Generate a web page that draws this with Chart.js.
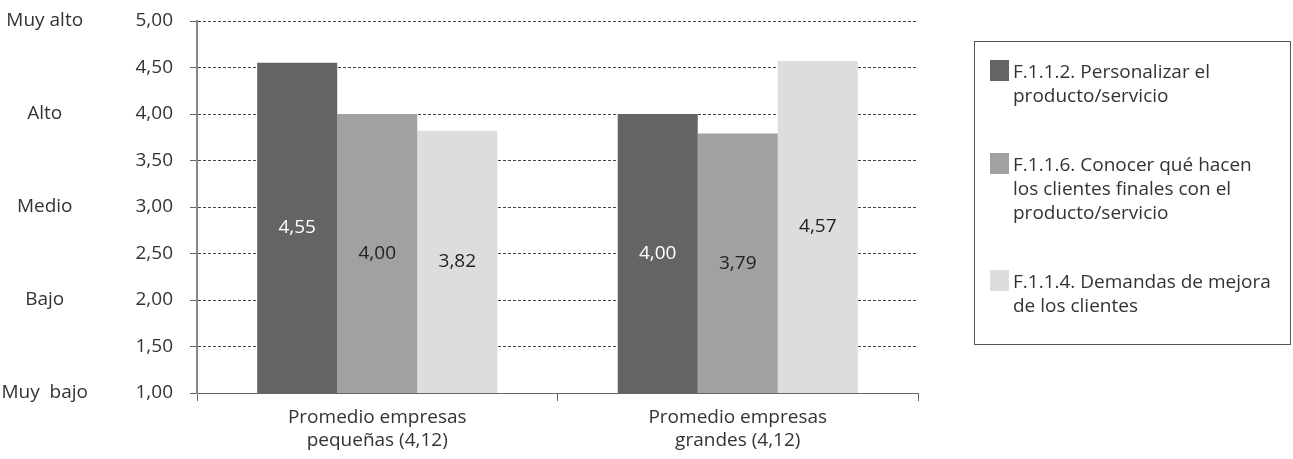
<!DOCTYPE html>
<html lang="es">
<head>
<meta charset="utf-8">
<title>Promedio por tamaño de empresa</title>
<script src="https://cdn.jsdelivr.net/npm/chart.js@4/dist/chart.umd.min.js"></script>
<style>
  html, body { margin: 0; padding: 0; background: #fff; }
  #wrap { width: 1293px; height: 459px; position: relative; }
</style>
</head>
<body>
<div id="wrap"><canvas id="grafico"></canvas></div>
<script>
// Categorías (eje X), en dos líneas cada una
const categorias = [
  ['Promedio empresas', 'pequeñas (4,12)'],
  ['Promedio empresas', 'grandes (4,12)']
];

// Series (una por ítem)
const serieNombres = [
  ['F.1.1.2. Personalizar el', 'producto/servicio'],
  ['F.1.1.6. Conocer qué hacen', 'los clientes finales con el', 'producto/servicio'],
  ['F.1.1.4. Demandas de mejora', 'de los clientes']
];
const personalizar = [4.55, 4.00];
const conocerClientes = [4.00, 3.79];
const demandasMejora = [3.82, 4.57];

// Escala cualitativa (1 a 5)
const niveles = ['Muy  bajo', 'Bajo', 'Medio', 'Alto', 'Muy alto'];

const colores = ['#636466', '#a0a1a3', '#dcdddf'];
const colorTexto = ['#ffffff', '#222222', '#222222'];
const fuente = '"Open Sans", "Noto Sans", sans-serif';
const tam = 19;

const coma = v => v.toFixed(2).replace('.', ',');

// Valores dentro de cada barra, centrados en la parte visible de la barra
const etiquetasBarras = {
  id: 'etiquetasBarras',
  afterDatasetsDraw(chart) {
    const ctx = chart.ctx;
    const fondo = chart.chartArea.bottom;
    ctx.save();
    ctx.font = tam + 'px ' + fuente;
    ctx.textAlign = 'center';
    ctx.textBaseline = 'middle';
    chart.data.datasets.forEach((ds, i) => {
      chart.getDatasetMeta(i).data.forEach((bar, j) => {
        ctx.fillStyle = colorTexto[i];
        ctx.fillText(coma(ds.data[j]), bar.x, (bar.y + Math.min(bar.base, fondo)) / 2);
      });
    });
    ctx.restore();
  }
};

// Leyenda en recuadro a la derecha, con textos de varias líneas
const leyendaCaja = {
  id: 'leyendaCaja',
  afterDraw(chart) {
    const ctx = chart.ctx;
    const x0 = chart.chartArea.right + 56;
    const y0 = 41;
    ctx.save();
    ctx.strokeStyle = '#555';
    ctx.lineWidth = 1;
    ctx.strokeRect(x0 + 0.5, y0 + 0.5, 316, 303);
    ctx.font = tam + 'px ' + fuente;
    ctx.textAlign = 'left';
    ctx.textBaseline = 'middle';
    let y = y0 + 32;
    chart.data.datasets.forEach((ds, i) => {
      ctx.fillStyle = colores[i];
      ctx.fillRect(x0 + 16, y - 13, 19, 21);
      ctx.fillStyle = '#333';
      ds.label.forEach((linea, k) => {
        ctx.fillText(linea, x0 + 39, y + k * 24);
      });
      y += ds.label.length * 24 + 45;
    });
    ctx.restore();
  }
};

new Chart(document.getElementById('grafico'), {
  type: 'bar',
  data: {
    labels: categorias,
    datasets: [
      { label: serieNombres[0], data: personalizar, backgroundColor: colores[0] },
      { label: serieNombres[1], data: conocerClientes, backgroundColor: colores[1] },
      { label: serieNombres[2], data: demandasMejora, backgroundColor: colores[2] }
    ]
  },
  options: {
    responsive: true,
    maintainAspectRatio: false,
    animation: false,
    layout: { padding: { top: 21, right: 375, left: 0, bottom: 0 } },
    datasets: { bar: { categoryPercentage: 0.666, barPercentage: 1.0, borderWidth: 0 } },
    plugins: {
      legend: { display: false },
      tooltip: { enabled: false }
    },
    scales: {
      x: {
        grid: { drawOnChartArea: false, drawTicks: true, tickLength: 8, color: '#666', offset: true },
        border: { color: '#666', width: 1 },
        ticks: { color: '#333', padding: 5, font: { family: fuente, size: tam, lineHeight: 1.2 } },
        afterFit(scale) { scale.height = 66; }
      },
      y: {
        min: 1, max: 5,
        weight: 0,
        ticks: {
          stepSize: 0.5, color: '#333', padding: 17,
          font: { family: fuente, size: tam },
          callback: v => coma(v)
        },
        grid: {
          color: '#444', lineWidth: 1,
          tickLength: 7, tickBorderDash: [], tickColor: '#666'
        },
        // en v4 el trazo discontinuo de la rejilla va en border.dash
        border: { color: '#888', width: 2, dash: [3, 2] },
        afterFit(scale) {
          scale.width = 101;
          // el padding de las etiquetas no debe empujar el área hacia abajo
          scale.paddingTop = 0;
          scale.paddingBottom = 0;
        }
      },
      niveles: {
        position: 'left',
        min: 1, max: 5,
        weight: 1,
        grid: { display: false },
        border: { display: false },
        ticks: {
          stepSize: 1, color: '#333', padding: 0, crossAlign: 'center',
          font: { family: fuente, size: tam },
          callback: v => niveles[v - 1]
        },
        afterFit(scale) { scale.width = 96; }
      }
    }
  },
  plugins: [etiquetasBarras, leyendaCaja]
});
</script>
</body>
</html>
